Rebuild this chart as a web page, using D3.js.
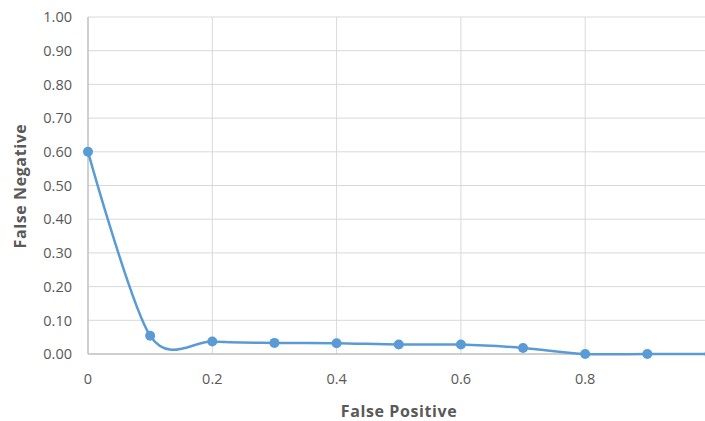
<!DOCTYPE html>
<html><head><meta charset="utf-8">
<script src="https://cdn.jsdelivr.net/npm/d3@7"></script>
<style>body{margin:0;background:#fff;overflow:hidden}svg{display:block}</style>
</head><body>
<script>
const xValues = [0, 0.1, 0.2, 0.3, 0.4, 0.5, 0.6, 0.7, 0.8, 0.9, 1.0];
const yValues = [0.60, 0.054, 0.037, 0.033, 0.032, 0.028, 0.028, 0.018, 0.0, 0.0, 0.0];
const xTicks = [0, 0.2, 0.4, 0.6, 0.8];
const yTicks = [0, 0.1, 0.2, 0.3, 0.4, 0.5, 0.6, 0.7, 0.8, 0.9, 1.0];

const W = 705, H = 421;
const svg = d3.select("body").append("svg").attr("width", W).attr("height", H);
const x = d3.scaleLinear().domain([0, 1]).range([88, 709.5]);
const y = d3.scaleLinear().domain([0, 1]).range([354, 17]);
const font = "'Open Sans', 'Liberation Sans', sans-serif";

svg.append("g").selectAll("line").data(yTicks.filter(d => d > 0)).join("line")
  .attr("x1", x(0)).attr("x2", W).attr("y1", d => y(d)).attr("y2", d => y(d))
  .attr("stroke", "#d9d9d9").attr("stroke-width", 1);
svg.append("g").selectAll("line").data(xTicks.filter(d => d > 0)).join("line")
  .attr("y1", y(0)).attr("y2", y(1)).attr("x1", d => x(d)).attr("x2", d => x(d))
  .attr("stroke", "#d9d9d9").attr("stroke-width", 1);
svg.append("line").attr("x1", x(0)).attr("x2", W).attr("y1", y(0)).attr("y2", y(0))
  .attr("stroke", "#bfbfbf").attr("stroke-width", 1.5);
svg.append("line").attr("x1", x(0)).attr("x2", x(0)).attr("y1", y(0)).attr("y2", y(1))
  .attr("stroke", "#bfbfbf").attr("stroke-width", 1.5);

svg.append("g").selectAll("text").data(yTicks).join("text")
  .attr("x", 72).attr("y", d => y(d)).attr("dy", "0.36em")
  .attr("text-anchor", "end").attr("font-family", font).attr("font-size", 14.5)
  .attr("fill", "#595959").text(d => d3.format(".2f")(d));
svg.append("g").selectAll("text").data(xTicks).join("text")
  .attr("x", d => x(d)).attr("y", 384)
  .attr("text-anchor", "middle").attr("font-family", font).attr("font-size", 14.5)
  .attr("fill", "#595959").text(d => d === 0 ? "0" : d3.format(".1f")(d));

svg.append("text").attr("x", 399).attr("y", 417).attr("text-anchor", "middle")
  .attr("font-family", font).attr("font-size", 16).attr("font-weight", "bold")
  .attr("letter-spacing", 0.6).attr("fill", "#595959").text("False Positive");
svg.append("text").attr("transform", "translate(26,186) rotate(-90)").attr("text-anchor", "middle")
  .attr("font-family", font).attr("font-size", 16).attr("font-weight", "bold")
  .attr("letter-spacing", 0.6).attr("fill", "#595959").text("False Negative");

const data = xValues.map((v, i) => [v, yValues[i]]);
const line = d3.line().x(d => x(d[0])).y(d => y(d[1])).curve(d3.curveCardinal.tension(0.1));
svg.append("path").datum(data).attr("d", line).attr("fill", "none")
  .attr("stroke", "#5b9bd5").attr("stroke-width", 2.5);
svg.append("g").selectAll("circle").data(data).join("circle")
  .attr("cx", d => x(d[0])).attr("cy", d => y(d[1])).attr("r", 5)
  .attr("fill", "#5b9bd5");
</script>
</body></html>
